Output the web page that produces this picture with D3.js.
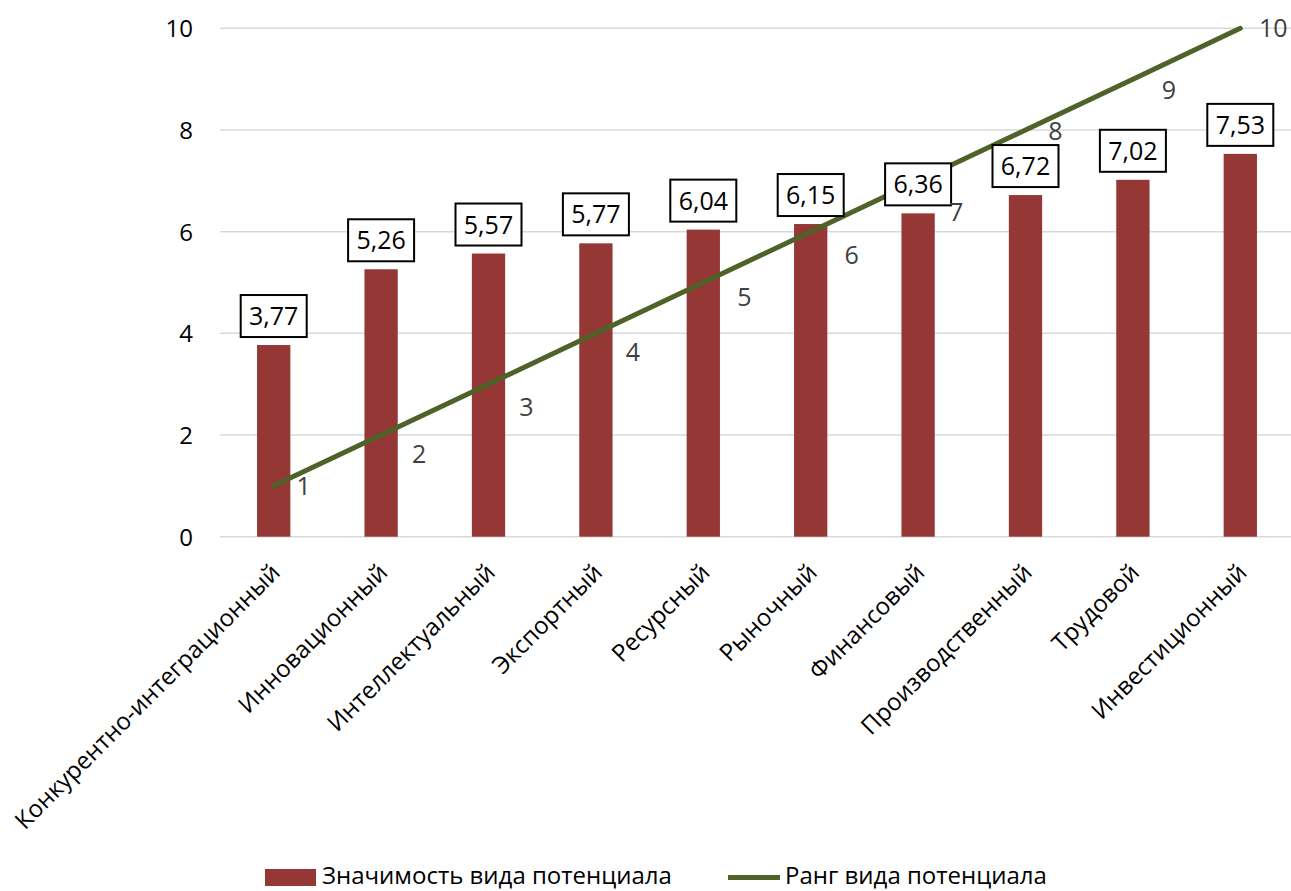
<!DOCTYPE html>
<html><head><meta charset="utf-8">
<script src="https://cdn.jsdelivr.net/npm/d3@7/dist/d3.min.js"></script>
<style>body{margin:0;background:#fff}svg{display:block}text{font-family:"Open Sans",sans-serif}</style>
</head><body><svg id="c" width="1291" height="891"></svg>
<script>
const categories = ["Конкурентно-интеграционный","Инновационный","Интеллектуальный","Экспортный","Ресурсный","Рыночный","Финансовый","Производственный","Трудовой","Инвестиционный"];
const significance = [3.77,5.26,5.57,5.77,6.04,6.15,6.36,6.72,7.02,7.53];
const rank = [1,2,3,4,5,6,7,8,9,10];
const yTicks = [0,2,4,6,8,10];
const seriesNames = ["Значимость вида потенциала","Ранг вида потенциала"];

const barColor = "#953735", lineColor = "#4F6228";
const svg = d3.select("#c");
const x = d3.scaleBand().domain(categories).range([220,1294]).paddingInner(0.69).paddingOuter(0.345);
const y = d3.scaleLinear().domain([0,10]).range([536.7,28.3]);

// gridlines
svg.append("g").selectAll("line").data(yTicks).join("line")
  .attr("x1",220).attr("x2",1291).attr("y1",d=>y(d)).attr("y2",d=>y(d))
  .attr("stroke","#d9d9d9").attr("stroke-width",1.5);

// y axis labels
const yAxis = d3.axisLeft(y).tickValues(yTicks).tickSize(0).tickPadding(0).tickFormat(d3.format("d"));
const ya = svg.append("g").attr("transform","translate(193,0)").call(yAxis);
ya.select(".domain").remove();
ya.selectAll("text").attr("font-size",24).attr("fill","#000").attr("font-family","Open Sans").attr("dy","0.35em");

// bars
svg.append("g").selectAll("rect").data(significance).join("rect")
  .attr("x",(d,i)=>x(categories[i])).attr("width",x.bandwidth())
  .attr("y",d=>y(d)).attr("height",d=>y(0)-y(d)).attr("fill",barColor);

// line
const cx = (i)=>x(categories[i])+x.bandwidth()/2;
svg.append("path").datum(rank)
  .attr("d",d3.line().x((d,i)=>cx(i)).y(d=>y(d)))
  .attr("fill","none").attr("stroke",lineColor).attr("stroke-width",5).attr("stroke-linecap","round");

// bar value labels in boxes
const fmt = v => v.toFixed(2).replace(".",",");
const bl = svg.append("g").selectAll("g").data(significance).join("g")
  .attr("transform",(d,i)=>`translate(${cx(i)},${y(d)-8-21})`);
bl.append("rect").attr("x",-33).attr("y",-21).attr("width",66).attr("height",42)
  .attr("fill","#fff").attr("stroke","#000").attr("stroke-width",2);
bl.append("text").attr("text-anchor","middle").attr("dy","0.36em").attr("font-size",25).attr("fill","#000").text(d=>fmt(d));

// rank labels
const rankDx = [30,38,38,37,41,41,38,30,36,33];
const rankDy = [0,19,23,19,14,23,31,1,11,0];
svg.append("g").selectAll("text").data(rank).join("text")
  .attr("x",(d,i)=>cx(i)+rankDx[i]).attr("y",(d,i)=>y(d)+rankDy[i])
  .attr("text-anchor","middle").attr("dy","0.36em").attr("font-size",25).attr("fill","#404040").text(d=>d);

// category labels
svg.append("g").selectAll("text").data(categories).join("text")
  .attr("transform",(d,i)=>`translate(${cx(i)+2},${568}) rotate(-45)`)
  .attr("text-anchor","end").attr("dy","0.35em").attr("font-size",24).attr("fill","#000").text(d=>d);

// legend
const lg = svg.append("g");
lg.append("rect").attr("x",265).attr("y",869).attr("width",51).attr("height",17).attr("fill",barColor);
lg.append("text").attr("x",322).attr("y",884).attr("font-size",24).attr("fill","#000").text(seriesNames[0]);
lg.append("line").attr("x1",728).attr("x2",780).attr("y1",877.5).attr("y2",877.5).attr("stroke",lineColor).attr("stroke-width",5);
lg.append("text").attr("x",785).attr("y",884).attr("font-size",24).attr("fill","#000").text(seriesNames[1]);
</script></body></html>
